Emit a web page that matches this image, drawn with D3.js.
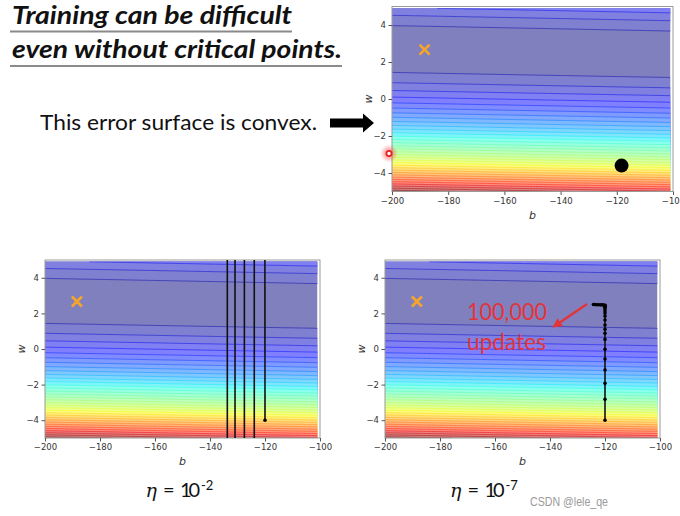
<!DOCTYPE html>
<html><head><meta charset="utf-8">
<script src="https://cdn.jsdelivr.net/npm/d3@7"></script>
<style>html,body{margin:0;padding:0;background:#fff;overflow:hidden}</style>
</head><body>
<svg id="c" width="680" height="516" xmlns="http://www.w3.org/2000/svg"></svg>
<script>
// ---------------- data ----------------
const xData = [338, 333, 328, 207, 226, 25, 179, 60, 208, 606];
const yData = [640, 633, 619, 393, 428, 27, 193, 66, 226, 1591];
const bGrid = d3.range(0, 100).map(i => -200 + i);        // bias axis grid
const wGrid = d3.range(0, 100).map(i => -5 + i * 0.1);    // weight axis grid
const levelStep = 150000;
const xTicks = [-200, -180, -160, -140, -120, -100];
const yTicks = [-4, -2, 0, 2, 4];
const optB = [-188.4], optW = [2.67];
const bigDotB = [-118.3], bigDotW = [-3.6];
// eta = 1e-2 : diverging path (off-chart w values estimated)
const path1B = [-120, -123.9, -127.5, -130.9, -133.7, -136.5];
const path1W = [-4, 1e3, -1e6, 1e9, -1e12, 1e15];
// eta = 1e-7 : 100,000 updates
const path2B = [-120, -120, -120, -120, -120, -120, -120, -120, -120, -120, -120, -120, -120, -120, -120, -120, -120, -120, -120, -120.4, -121, -121.7, -122.4, -123.1, -123.7, -124.2];
const path2W = [-4, -2.83, -1.93, -1.18, -0.56, -0.02, 0.54, 0.88, 1.11, 1.35, 1.63, 1.85, 2.02, 2.15, 2.26, 2.34, 2.40, 2.44, 2.46, 2.47, 2.48, 2.48, 2.49, 2.49, 2.5, 2.5];

// ---------------- helpers ----------------
function interp(pts, t) {
  for (let i = 1; i < pts.length; i++) {
    if (t <= pts[i][0]) { const [x0, y0] = pts[i - 1], [x1, y1] = pts[i]; return y0 + (y1 - y0) * (t - x0) / (x1 - x0); }
  }
  return pts[pts.length - 1][1];
}
const jetR = [[0, 0], [0.35, 0], [0.66, 1], [0.89, 1], [1, 0.5]];
const jetG = [[0, 0], [0.125, 0], [0.375, 1], [0.64, 1], [0.91, 0], [1, 0]];
const jetB = [[0, 0.5], [0.11, 1], [0.34, 1], [0.65, 0], [1, 0]];
const jet = t => [interp(jetR, t), interp(jetG, t), interp(jetB, t)];
const blend = (c, a) => d3.rgb(...c.map(v => 255 * (a * v + (1 - a)))).formatHex();

// clip a polyline to a w-range in data space (keeps huge off-chart values out of SVG)
function clipW(pts, lo, hi) {
  const segs = [];
  for (let i = 0; i < pts.length - 1; i++) {
    let [b0, w0] = pts[i], [b1, w1] = pts[i + 1];
    let t0 = 0, t1 = 1;
    const dw = w1 - w0;
    if (dw === 0) { if (w0 < lo || w0 > hi) continue; }
    else {
      let ta = (lo - w0) / dw, tb = (hi - w0) / dw;
      if (ta > tb) [ta, tb] = [tb, ta];
      t0 = Math.max(t0, ta); t1 = Math.min(t1, tb);
      if (t0 > t1) continue;
    }
    segs.push([[b0 + (b1 - b0) * t0, w0 + dw * t0], [b0 + (b1 - b0) * t1, w0 + dw * t1]]);
  }
  return segs;
}

// error surface
const nx = bGrid.length, ny = wGrid.length;
const Z = new Array(nx * ny);
for (let j = 0; j < ny; j++) for (let i = 0; i < nx; i++) {
  const b = bGrid[i], w = wGrid[j];
  let s = 0;
  for (let n = 0; n < xData.length; n++) { const r = yData[n] - b - w * xData[n]; s += r * r; }
  Z[j * nx + i] = s / xData.length;
}
const zmax = d3.max(Z);
const levels = d3.range(0, zmax + levelStep, levelStep);
const nBands = levels.length - 1;
const contours = d3.contours().size([nx, ny]).thresholds(levels.slice(0, nBands))(Z);

const svg = d3.select('#c');
const defs = svg.append('defs');

const panels = [
  { id: 'top', x0: 392, x1: 673, y0: 6.5, y1: 191.5 },
  { id: 'bl', x0: 45, x1: 320, y0: 260, y1: 438 },
  { id: 'br', x0: 385, x1: 660, y0: 260, y1: 438 }
];

const fmt = d3.format('d');
panels.forEach(p => {
  const xs = d3.scaleLinear().domain([-200, -100]).range([p.x0, p.x1]);
  const ys = d3.scaleLinear().domain([-5, 5]).range([p.y1, p.y0]);
  p.xs = xs; p.ys = ys;
  defs.append('clipPath').attr('id', 'data-' + p.id).append('rect')
    .attr('x', xs(bGrid[0])).attr('y', ys(wGrid[ny - 1]))
    .attr('width', xs(bGrid[nx - 1]) - xs(bGrid[0])).attr('height', ys(wGrid[0]) - ys(wGrid[ny - 1]));
  defs.append('clipPath').attr('id', 'plot-' + p.id).append('rect')
    .attr('x', p.x0).attr('y', p.y0).attr('width', p.x1 - p.x0).attr('height', p.y1 - p.y0);

  const proj = d3.geoTransform({
    point(cx, cy) { this.stream.point(xs(bGrid[0] + (cx - 0.5) * 1), ys(wGrid[0] + (cy - 0.5) * 0.1)); }
  });
  const gp = d3.geoPath(proj);
  const g = svg.append('g').attr('clip-path', `url(#data-${p.id})`);
  g.selectAll('path.f').data(contours).join('path').attr('class', 'f')
    .attr('d', gp).attr('fill', (d, k) => blend(jet(k / (nBands - 1)), 0.5)).attr('stroke', 'none');
  g.selectAll('path.s').data(contours.slice(1)).join('path').attr('class', 's')
    .attr('d', gp).attr('fill', 'none')
    .attr('stroke', (d, k) => blend(jet((k + 1) / (nBands - 1)), 0.8)).attr('stroke-width', 0.8);

  // frame
  svg.append('rect').attr('x', p.x0).attr('y', p.y0).attr('width', p.x1 - p.x0).attr('height', p.y1 - p.y0)
    .attr('fill', 'none').attr('stroke', '#9a9a9a').attr('stroke-width', 1);

  // axes
  const ax = svg.append('g').attr('transform', `translate(0,${p.y1})`)
    .call(d3.axisBottom(xs).tickValues(xTicks).tickSize(3.5).tickPadding(2.5).tickFormat(fmt));
  const ay = svg.append('g').attr('transform', `translate(${p.x0},0)`)
    .call(d3.axisLeft(ys).tickValues(yTicks).tickSize(3.5).tickPadding(2.5).tickFormat(fmt));
  [ax, ay].forEach(a => {
    a.select('.domain').remove();
    a.selectAll('line').attr('stroke', '#555');
    a.selectAll('text').attr('fill', '#333').style('font-family', 'DejaVu Sans').style('font-size', '8.5px');
  });
  svg.append('text').attr('x', (p.x0 + p.x1) / 2).attr('y', p.y1 + 27).attr('text-anchor', 'middle')
    .style('font-family', 'DejaVu Sans').style('font-style', 'italic').style('font-size', '11px').attr('fill', '#333').text('b');
  svg.append('text').attr('transform', `translate(${p.x0 - 24},${(p.y0 + p.y1) / 2}) rotate(-90)`)
    .attr('text-anchor', 'middle').attr('dy', '0.35em')
    .style('font-family', 'DejaVu Sans').style('font-style', 'italic').style('font-size', '11px').attr('fill', '#333').text('w');

  // optimum marker (orange x)
  const ox = xs(optB[0]), oy = ys(optW[0]), h = 5;
  svg.append('path').attr('d', `M${ox - h},${oy - h}L${ox + h},${oy + h}M${ox - h},${oy + h}L${ox + h},${oy - h}`)
    .attr('stroke', '#f5a52a').attr('stroke-width', 2.6).attr('fill', 'none');
});

// top: big black dot
{
  const p = panels[0];
  svg.append('circle').attr('cx', p.xs(bigDotB[0])).attr('cy', p.ys(bigDotW[0])).attr('r', 7).attr('fill', '#000');
}
function drawPath(p, B, W) {
  const pts = B.map((b, i) => [b, W[i]]);
  const g = svg.append('g').attr('clip-path', `url(#plot-${p.id})`);
  const line = d3.line().x(d => p.xs(d[0])).y(d => p.ys(d[1]));
  g.selectAll('path.seg').data(clipW(pts, -6, 6)).join('path').attr('class', 'seg')
    .attr('d', line).attr('fill', 'none').attr('stroke', '#111').attr('stroke-width', 1.6);
  g.selectAll('circle').data(pts.filter(d => Math.abs(d[1]) < 6)).join('circle')
    .attr('cx', d => p.xs(d[0])).attr('cy', d => p.ys(d[1])).attr('r', 1.8).attr('fill', '#000');
}
drawPath(panels[1], path1B, path1W);
drawPath(panels[2], path2B, path2W);

// annotation on bottom-right
{
  const red = '#e3343a';
  defs.append('marker').attr('id', 'ah').attr('viewBox', '0 0 10 10').attr('refX', 8).attr('refY', 5)
    .attr('markerWidth', 4).attr('markerHeight', 4).attr('orient', 'auto')
    .append('path').attr('d', 'M0,0L10,5L0,10z').attr('fill', red);
  svg.append('line').attr('x1', 587).attr('y1', 304).attr('x2', 554).attr('y2', 326.5)
    .attr('stroke', red).attr('stroke-width', 2.4).attr('marker-end', 'url(#ah)');
  svg.append('text').attr('x', 467).attr('y', 320).attr('textLength', 80).attr('lengthAdjust', 'spacingAndGlyphs')
    .style('font-family', 'Lato, "Open Sans", sans-serif').style('font-size', '23px').attr('fill', red).text('100,000');
  svg.append('text').attr('x', 467).attr('y', 349.5).attr('textLength', 79).attr('lengthAdjust', 'spacingAndGlyphs')
    .style('font-family', 'Lato, "Open Sans", sans-serif').style('font-size', '23px').attr('fill', red).text('updates');
}

// ---------------- slide text ----------------
const tFont = 'Lato, "Open Sans", sans-serif';
svg.append('text').attr('x', 12).attr('y', 24).attr('textLength', 280).attr('lengthAdjust', 'spacingAndGlyphs')
  .style('font-family', tFont).style('font-weight', 'bold').style('font-style', 'italic').style('font-size', '24px')
  .attr('fill', '#111').text('Training can be difficult');
svg.append('text').attr('x', 12).attr('y', 57.5).attr('textLength', 330).attr('lengthAdjust', 'spacingAndGlyphs')
  .style('font-family', tFont).style('font-weight', 'bold').style('font-style', 'italic').style('font-size', '24px')
  .attr('fill', '#111').text('even without critical points.');
svg.append('line').attr('x1', 10).attr('x2', 292).attr('y1', 31.5).attr('y2', 31.5).attr('stroke', '#8a8a8a').attr('stroke-width', 2);
svg.append('line').attr('x1', 10).attr('x2', 342).attr('y1', 66).attr('y2', 66).attr('stroke', '#8a8a8a').attr('stroke-width', 2);

svg.append('text').attr('x', 40).attr('y', 129.5).attr('textLength', 277).attr('lengthAdjust', 'spacingAndGlyphs')
  .style('font-family', tFont).style('font-size', '21px').attr('fill', '#111').text('This error surface is convex.');
svg.append('path').attr('d', 'M330,118.5L363,118.5L363,113.5L374,123L363,132.5L363,127.5L330,127.5Z').attr('fill', '#000');

// cursor highlight
const rg = defs.append('radialGradient').attr('id', 'glow');
rg.append('stop').attr('offset', '40%').attr('stop-color', '#ff4040').attr('stop-opacity', 0.45);
rg.append('stop').attr('offset', '100%').attr('stop-color', '#ff4040').attr('stop-opacity', 0);
svg.append('circle').attr('cx', 389).attr('cy', 153.5).attr('r', 9).attr('fill', 'url(#glow)');
svg.append('circle').attr('cx', 389).attr('cy', 153.5).attr('r', 2.6).attr('fill', '#fff').attr('stroke', '#e82020').attr('stroke-width', 1.8);

// eta labels
function eta(x, sup) {
  svg.append('text').attr('x', x).attr('y', 497).style('font-family', '"DejaVu Serif", serif').style('font-style', 'italic')
    .style('font-size', '19px').attr('fill', '#111').text('η');
  svg.append('text').attr('x', x + 17.5).attr('y', 497).style('font-family', tFont).style('font-size', '20px').attr('fill', '#111').text('=');
  svg.append('text').attr('x', x + 34.5).attr('y', 497).attr('textLength', 20).style('font-family', tFont).style('font-size', '20px').attr('fill', '#111').text('10');
  svg.append('text').attr('x', x + 55.5).attr('y', 490).style('font-family', tFont).style('font-size', '13px').attr('fill', '#111').text(sup);
}
eta(145.5, '-2');
eta(450, '-7');

svg.append('text').attr('x', 530).attr('y', 506).attr('textLength', 78).attr('lengthAdjust', 'spacingAndGlyphs')
  .style('font-family', '"Liberation Sans", Arial, sans-serif').style('font-size', '12px').attr('fill', '#9a9a9a').text('CSDN @lele_qe');
</script>
</body></html>
